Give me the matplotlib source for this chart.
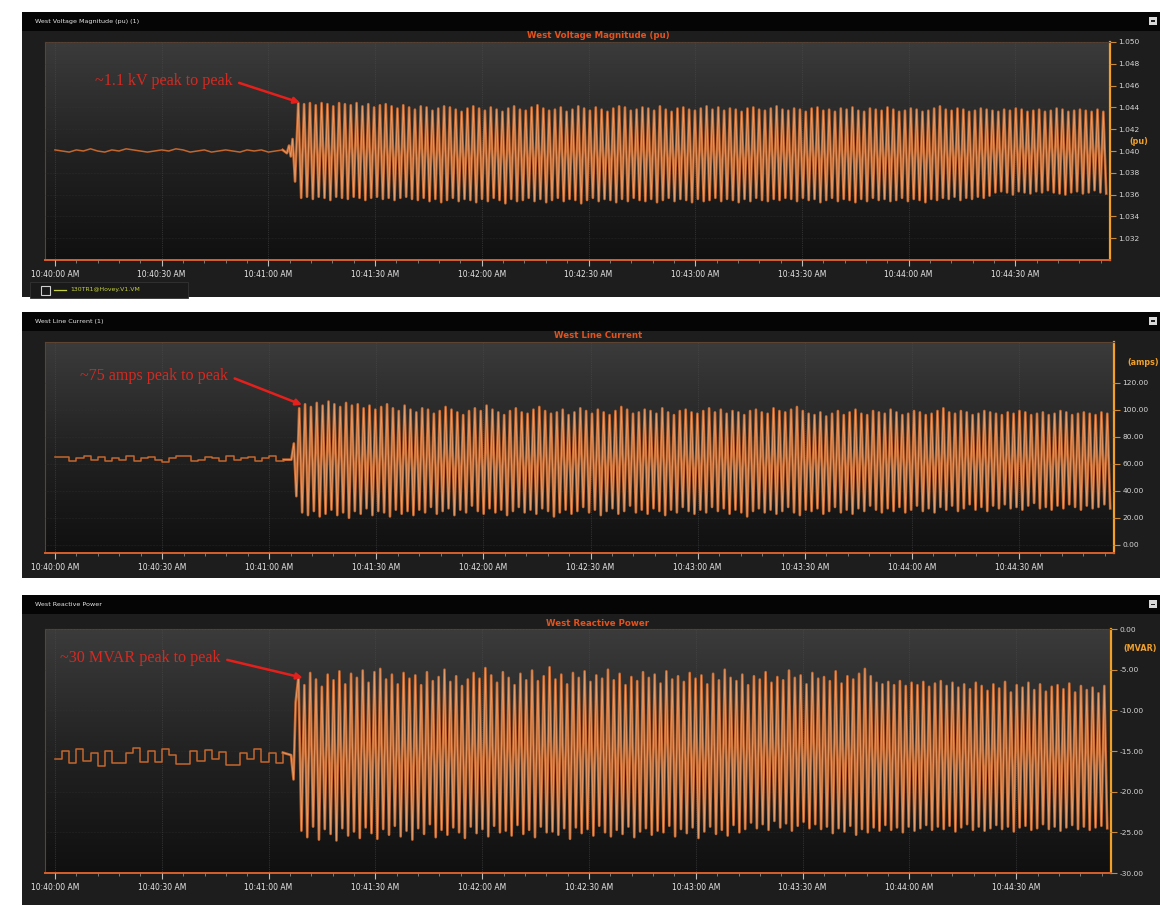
"""Three stacked PMU trend panels: West voltage, line current and reactive power."""

import numpy as np
import matplotlib
matplotlib.use("Agg")
import matplotlib.pyplot as plt
from matplotlib.patches import Rectangle
from matplotlib.colors import LinearSegmentedColormap
from matplotlib.ticker import MultipleLocator, FuncFormatter, FixedLocator

# ── Data (seconds after 10:40:00 AM) ─────────────────────────────────────────
base_step = 2.0          # pre-event samples every 2 s, t = 0 .. 64
osc_start = 68.4         # time of first full peak
osc_period = 1.64        # one peak + one trough

v_base = [1.0401, 1.0400, 1.0399, 1.0401, 1.0400, 1.0402, 1.0400, 1.0399, 1.0401, 1.0400,
          1.0402, 1.0401, 1.0400, 1.0399, 1.0400, 1.0401, 1.0400, 1.0402, 1.0401, 1.0399,
          1.0400, 1.0401, 1.0399, 1.0400, 1.0401, 1.0400, 1.0399, 1.0401, 1.0400, 1.0401,
          1.0399, 1.0400, 1.0401]
v_onset_t = [65.2, 65.8, 66.3, 66.8, 67.5]
v_onset = [1.0398, 1.0405, 1.0395, 1.0411, 1.0372]
v_peaks = [1.0444, 1.0443, 1.0444, 1.0442, 1.0444, 1.0443, 1.0441, 1.0444, 1.0443, 1.0442,
           1.0444, 1.0441, 1.0443, 1.0440, 1.0442, 1.0443, 1.0441, 1.0439, 1.0442, 1.0440,
           1.0438, 1.0441, 1.0440, 1.0437, 1.0439, 1.0441, 1.0440, 1.0438, 1.0436, 1.0439,
           1.0441, 1.0439, 1.0437, 1.0440, 1.0438, 1.0436, 1.0439, 1.0441, 1.0438, 1.0437,
           1.0440, 1.0442, 1.0439, 1.0437, 1.0438, 1.0440, 1.0436, 1.0438, 1.0441, 1.0439,
           1.0437, 1.0440, 1.0438, 1.0436, 1.0439, 1.0441, 1.0440, 1.0437, 1.0438, 1.0440,
           1.0439, 1.0437, 1.0441, 1.0438, 1.0436, 1.0439, 1.0440, 1.0438, 1.0437, 1.0439,
           1.0441, 1.0438, 1.0440, 1.0437, 1.0439, 1.0438, 1.0436, 1.0439, 1.0440, 1.0438,
           1.0437, 1.0439, 1.0441, 1.0438, 1.0437, 1.0439, 1.0438, 1.0436, 1.0439, 1.0440,
           1.0437, 1.0438, 1.0436, 1.0439, 1.0438, 1.0440, 1.0437, 1.0436, 1.0439, 1.0438,
           1.0437, 1.0440, 1.0438, 1.0436, 1.0437, 1.0439, 1.0438, 1.0436, 1.0437, 1.0439,
           1.0441, 1.0438, 1.0437, 1.0439, 1.0438, 1.0436, 1.0437, 1.0439, 1.0438, 1.0437,
           1.0436, 1.0438, 1.0437, 1.0439, 1.0438, 1.0436, 1.0437, 1.0438, 1.0436, 1.0437,
           1.0439, 1.0438, 1.0436, 1.0437, 1.0438, 1.0437, 1.0436, 1.0438, 1.0436]
v_troughs = [1.0357, 1.0358, 1.0356, 1.0358, 1.0357, 1.0355, 1.0358, 1.0357, 1.0356, 1.0358,
             1.0357, 1.0355, 1.0357, 1.0358, 1.0356, 1.0357, 1.0355, 1.0357, 1.0358, 1.0356,
             1.0355, 1.0357, 1.0354, 1.0356, 1.0353, 1.0355, 1.0357, 1.0354, 1.0356, 1.0355,
             1.0353, 1.0356, 1.0354, 1.0357, 1.0355, 1.0352, 1.0356, 1.0354, 1.0355, 1.0357,
             1.0354, 1.0356, 1.0353, 1.0355, 1.0357, 1.0354, 1.0356, 1.0355, 1.0352, 1.0355,
             1.0357, 1.0354, 1.0356, 1.0355, 1.0353, 1.0356, 1.0354, 1.0357, 1.0355, 1.0354,
             1.0356, 1.0353, 1.0355, 1.0357, 1.0354, 1.0356, 1.0355, 1.0353, 1.0356, 1.0354,
             1.0355, 1.0357, 1.0354, 1.0356, 1.0355, 1.0353, 1.0356, 1.0354, 1.0357, 1.0355,
             1.0354, 1.0356, 1.0355, 1.0357, 1.0356, 1.0354, 1.0357, 1.0355, 1.0356, 1.0353,
             1.0355, 1.0357, 1.0354, 1.0356, 1.0355, 1.0353, 1.0356, 1.0354, 1.0357, 1.0355,
             1.0356, 1.0354, 1.0355, 1.0357, 1.0354, 1.0356, 1.0355, 1.0353, 1.0356, 1.0355,
             1.0357, 1.0356, 1.0358, 1.0355, 1.0357, 1.0356, 1.0358, 1.0357, 1.0359, 1.0362,
             1.0363, 1.0362, 1.0360, 1.0363, 1.0362, 1.0361, 1.0363, 1.0362, 1.0364, 1.0362,
             1.0361, 1.0360, 1.0362, 1.0363, 1.0361, 1.0362, 1.0364, 1.0362, 1.0361]

i_base = [65, 65, 62, 64, 66, 63, 65, 62, 64, 63, 66, 62, 64, 65, 63, 61.5, 64,
          66, 66, 62, 63, 65, 64, 62, 66, 63, 64, 65, 62, 64, 66, 62, 63]
i_onset_t = [66.2, 66.9, 67.6]
i_onset = [63, 75, 36]
i_peaks = [101, 104, 102, 105, 103, 106, 104, 102, 105, 103,
           104, 101, 103, 100, 102, 104, 101, 99, 103, 100,
           98, 101, 100, 97, 99, 102, 100, 98, 96, 99,
           101, 99, 103, 100, 98, 96, 99, 101, 98, 97,
           100, 102, 99, 97, 98, 100, 96, 98, 101, 99,
           97, 100, 98, 96, 99, 102, 100, 97, 98, 100,
           99, 97, 101, 98, 96, 99, 100, 98, 97, 99,
           101, 98, 100, 97, 99, 98, 96, 99, 100, 98,
           97, 101, 99, 98, 100, 102, 99, 97, 96, 98,
           95, 97, 99, 96, 98, 100, 97, 96, 99, 98,
           97, 100, 98, 96, 97, 99, 98, 96, 97, 99,
           101, 98, 97, 99, 98, 96, 97, 99, 98, 97,
           96, 98, 97, 99, 98, 96, 97, 98, 96, 97,
           99, 98, 96, 97, 98, 97, 96, 98, 97]
i_troughs = [24, 22, 25, 21, 23, 26, 22, 24, 20, 25,
             23, 27, 22, 25, 24, 21, 26, 23, 25, 22,
             26, 24, 28, 23, 25, 27, 22, 26, 24, 29,
             25, 23, 27, 24, 26, 22, 25, 28, 24, 26,
             23, 27, 25, 21, 24, 26, 23, 25, 28, 24,
             26, 22, 25, 27, 23, 25, 29, 24, 26, 23,
             27, 25, 22, 26, 24, 28, 25, 23, 26, 24,
             28, 25, 27, 23, 26, 24, 21, 25, 27, 24,
             26, 23, 25, 28, 24, 22, 26, 25, 27, 23,
             25, 28, 24, 26, 23, 27, 25, 29, 26, 24,
             27, 25, 28, 24, 26, 29, 25, 27, 24, 28,
             26, 29, 25, 27, 30, 26, 28, 25, 29, 27,
             30, 27, 28, 26, 29, 31, 27, 28, 26, 29,
             27, 30, 28, 26, 29, 27, 28, 30, 27]

q_base = [-16.0, -15.0, -16.5, -14.8, -16.2, -15.2, -16.8, -15.0, -16.5, -16.5,
          -15.2, -14.6, -16.3, -15.0, -16.4, -14.8, -15.5, -16.6, -16.6, -15.0,
          -16.2, -14.9, -16.0, -15.1, -16.7, -16.7, -15.2, -16.0, -14.8, -16.3,
          -15.3, -16.5, -15.2]
q_onset_t = [66.3, 67.0, 67.6]
q_onset = [-15.5, -18.5, -9.0]
q_peaks = [-5.8, -6.9, -5.4, -6.2, -7.1, -5.6, -6.3, -5.2, -6.8, -5.5,
           -6.0, -5.1, -6.6, -5.3, -4.9, -6.2, -5.6, -6.8, -5.4, -6.1,
           -5.7, -6.9, -5.3, -6.4, -5.9, -5.0, -6.5, -5.8, -7.0, -6.2,
           -5.4, -6.1, -4.8, -5.7, -6.6, -5.3, -6.0, -6.9, -5.5, -6.3,
           -5.1, -6.4, -5.8, -4.7, -6.2, -5.6, -6.8, -5.4, -6.0, -5.2,
           -6.5, -5.7, -6.1, -5.0, -6.3, -5.5, -6.9, -5.9, -6.4, -5.3,
           -6.0, -5.6, -6.7, -5.2, -6.2, -5.8, -6.5, -5.4, -6.1, -5.7,
           -6.8, -5.5, -6.3, -5.0, -6.0, -6.4, -5.6, -6.9, -5.8, -6.2,
           -5.3, -6.6, -5.9, -6.3, -5.1, -6.0, -5.7, -6.8, -5.4, -6.1,
           -5.9, -6.4, -5.2, -6.7, -5.8, -6.2, -5.5, -4.9, -5.8, -6.6,
           -6.8, -6.5, -6.9, -6.4, -7.0, -6.6, -6.9, -6.5, -7.1, -6.7,
           -6.4, -7.0, -6.6, -7.2, -6.8, -7.4, -6.6, -7.0, -7.6, -6.8,
           -7.3, -6.5, -7.8, -6.9, -7.2, -6.6, -7.5, -6.8, -7.7, -7.1,
           -6.9, -7.4, -6.7, -7.8, -7.0, -7.5, -7.2, -7.9, -7.0]
q_troughs = [-24.8, -25.6, -24.3, -25.9, -24.6, -25.2, -26.0, -24.5, -25.4, -24.9,
             -25.7, -24.4, -25.1, -25.8, -24.6, -25.3, -24.2, -25.5, -24.8, -25.9,
             -24.5, -25.2, -24.0, -25.6, -24.7, -25.3, -24.4, -25.0, -25.7, -24.3,
             -25.1, -24.6, -25.5, -24.2, -25.0, -24.8, -25.4, -24.1, -25.2, -24.7,
             -25.6, -24.3, -25.0, -24.9, -25.3, -24.5, -25.8, -24.4, -25.1, -24.6,
             -25.4, -24.2, -25.0, -25.5, -24.7, -25.2, -24.3, -25.6, -24.9, -24.5,
             -25.3, -24.8, -25.0, -24.2, -25.5, -24.6, -25.1, -24.4, -25.7, -24.9,
             -24.3, -25.2, -24.7, -25.4, -24.1, -25.0, -24.6, -23.8, -24.5, -24.0,
             -24.7, -23.6, -24.4, -23.9, -24.8, -24.2, -23.7, -24.5, -24.0, -24.6,
             -24.3, -25.1, -24.5, -24.9, -24.2, -25.3, -24.6, -25.0, -24.4, -24.8,
             -24.1, -24.7, -24.4, -25.0, -24.3, -24.8, -24.5, -24.1, -24.7, -24.3,
             -24.6, -24.2, -24.9, -24.4, -24.0, -24.7, -24.3, -24.8, -24.5, -24.1,
             -24.6, -24.3, -24.9, -24.4, -24.2, -24.7, -24.5, -24.0, -24.6, -24.3,
             -24.8, -24.4, -24.1, -24.6, -24.3, -24.7, -24.4, -24.2, -24.5]

# ── Figure ──────────────────────────────────────────────────────────────────
W, H = 1160, 908
fig = plt.figure(figsize=(W / 100, H / 100), dpi=100, facecolor="white")

LINE = "#c4662e"
LINE_HI = "#eeb080"
grad = LinearSegmentedColormap.from_list("bg", ["#101010", "#222222", "#3b3b3b"])


def fx(px):
    return px / W


def fy(px):
    return 1 - px / H


def clock(sec, pos=None):
    total = int(round(sec)) + 10 * 3600 + 40 * 60
    return f"{total // 3600}:{(total % 3600) // 60:02d}:{total % 60:02d} AM"


def panel(top, bottom, header, title, box, ylim, yticks, yfmt, unit, unit_y):
    # outer dark card and black header bar
    fig.add_artist(Rectangle((fx(22), fy(bottom)), fx(1138), (bottom - top) / H,
                             transform=fig.transFigure, facecolor="#1d1d1d",
                             edgecolor="none", zorder=0))
    fig.add_artist(Rectangle((fx(22), fy(top + 19)), fx(1138), 19 / H,
                             transform=fig.transFigure, facecolor="#050505",
                             edgecolor="none", zorder=0))
    fig.text(fx(35), fy(top + 10), header, color="#e6e6e6", fontsize=4.6,
             va="center", ha="left")
    fig.add_artist(Rectangle((fx(1149), fy(top + 13)), fx(8), 8 / H,
                             transform=fig.transFigure, facecolor="#d8d8d8",
                             edgecolor="none", zorder=1))
    fig.add_artist(Rectangle((fx(1151), fy(top + 10)), fx(4), 1.5 / H,
                             transform=fig.transFigure, facecolor="#202020",
                             edgecolor="none", zorder=2))

    x0, y0, x1, y1 = box
    ax = fig.add_axes([fx(x0), fy(y1), fx(x1 - x0), (y1 - y0) / H])
    ax.set_facecolor("#1d1d1d")
    ax.imshow(np.linspace(0, 1, 256).reshape(-1, 1)[::-1], cmap=grad, aspect="auto",
              extent=[0, 1, 0, 1], transform=ax.transAxes, zorder=0)
    fig.text(fx(598), fy(y0 - 6), title, color="#e4521c", fontsize=6.2,
             fontweight="bold", ha="center", va="center")

    ax.set_xlim(-2.8, 296.6)
    ax.set_ylim(*ylim)
    ax.xaxis.set_major_locator(MultipleLocator(30))
    ax.xaxis.set_minor_locator(MultipleLocator(6))
    ax.xaxis.set_major_formatter(FuncFormatter(clock))
    ax.yaxis.tick_right()
    ax.yaxis.set_major_locator(FixedLocator(yticks))
    ax.yaxis.set_major_formatter(FuncFormatter(lambda v, p: yfmt.format(v)))
    ax.tick_params(axis="x", colors="#bdbdbd", labelcolor="#e8e8e8", labelsize=5.5,
                   length=4, width=0.8, pad=3)
    ax.tick_params(axis="x", which="minor", colors="#8a8a8a", length=2, width=0.6)
    ax.tick_params(axis="y", colors="#c88a3a", labelcolor="#d6d6d6", labelsize=5.4,
                   length=4, width=0.8, pad=2)
    ax.grid(axis="x", color="#4c4c4c", lw=0.5, ls=":")
    ax.grid(axis="y", color="#343434", lw=0.4, ls=":")
    ax.set_axisbelow(False)
    for side in ("top", "left"):
        ax.spines[side].set_color("#5c4332")
        ax.spines[side].set_linewidth(0.8)
    ax.spines["bottom"].set_color("#d9602a")
    ax.spines["bottom"].set_linewidth(1.4)
    ax.spines["right"].set_color("#f2a126")
    ax.spines["right"].set_linewidth(1.6)
    ax.text(1.027, unit_y, unit, transform=ax.transAxes, color="#f0a02a",
            fontsize=5.8, fontweight="bold", ha="center", va="center")
    return ax


def draw_trace(ax, base, onset_t, onset, peaks, troughs, steps):
    tb = np.arange(len(base)) * base_step
    ax.plot(tb, base, color=LINE, lw=1.1, drawstyle="steps-post" if steps else "default",
            zorder=3)
    n = min(len(peaks), len(troughs))
    k = np.arange(n)
    t_osc = np.column_stack([osc_start + k * osc_period,
                             osc_start + (k + 0.5) * osc_period]).ravel()
    y_osc = np.column_stack([peaks[:n], troughs[:n]]).ravel()
    t = np.concatenate([[tb[-1]], onset_t, t_osc])
    y = np.concatenate([[base[-1]], onset, y_osc])
    ax.plot(t, y, color=LINE, lw=1.9, zorder=3)
    ax.plot(t, y, color=LINE_HI, lw=0.6, alpha=0.75, zorder=4)


def annotate(ax, text, tip, where):
    ax.annotate(text, xy=tip, xytext=where, textcoords="data", color="#d42a22",
                fontsize=11.6, family="Liberation Serif", ha="left", va="center",
                annotation_clip=False, zorder=6,
                arrowprops=dict(arrowstyle="-|>", color="#e3201c", lw=1.8,
                                mutation_scale=9, shrinkA=3, shrinkB=0,
                                relpos=(1.0, 0.5)))


# Panel 1: voltage magnitude
ax1 = panel(12, 297, "West Voltage Magnitude (pu) (1)", "West Voltage Magnitude (pu)",
            (45, 42, 1110, 260), (1.030, 1.050),
            [1.032, 1.034, 1.036, 1.038, 1.040, 1.042, 1.044, 1.046, 1.048, 1.050],
            "{:.3f}", "(pu)", 0.545)
draw_trace(ax1, v_base, v_onset_t, v_onset, v_peaks, v_troughs, steps=False)
annotate(ax1, "~1.1 kV peak to peak", (68.9, 1.04443), (11.2, 1.04645))

# legend strip under panel 1
fig.add_artist(Rectangle((fx(30), fy(298)), fx(158), 16 / H, transform=fig.transFigure,
                         facecolor="#1a1a1a", edgecolor="#333333", lw=0.6, zorder=1))
fig.add_artist(Rectangle((fx(41), fy(295)), fx(9), 9 / H, transform=fig.transFigure,
                         facecolor="#1a1a1a", edgecolor="#d0d0d0", lw=0.8, zorder=2))
fig.add_artist(plt.Line2D([fx(54), fx(66)], [fy(290), fy(290)], transform=fig.transFigure,
                          color="#c6d23c", lw=0.9, zorder=2))
fig.text(fx(70), fy(290), "130TR1@Hovey.V1.VM", color="#c6d23c", fontsize=4.4,
         va="center", ha="left")

# Panel 2: line current
ax2 = panel(312, 578, "West Line Current (1)", "West Line Current",
            (45, 342, 1114, 553), (-6, 150), [0, 20, 40, 60, 80, 100, 120],
            "{:.2f}", "(amps)", 0.905)
draw_trace(ax2, i_base, i_onset_t, i_onset, i_peaks, i_troughs, steps=True)
annotate(ax2, "~75 amps peak to peak", (69.2, 103.5), (7.0, 125.0))

# Panel 3: reactive power
ax3 = panel(595, 905, "West Reactive Power", "West Reactive Power",
            (45, 629, 1111, 873), (-30, 0), [0, -5, -10, -15, -20, -25, -30],
            "{:.2f}", "(MVAR)", 0.922)
draw_trace(ax3, q_base, q_onset_t, q_onset, q_peaks, q_troughs, steps=True)
annotate(ax3, "~30 MVAR peak to peak", (69.6, -6.0), (1.4, -3.6))

fig.savefig("out.png", dpi=100, facecolor="white")
